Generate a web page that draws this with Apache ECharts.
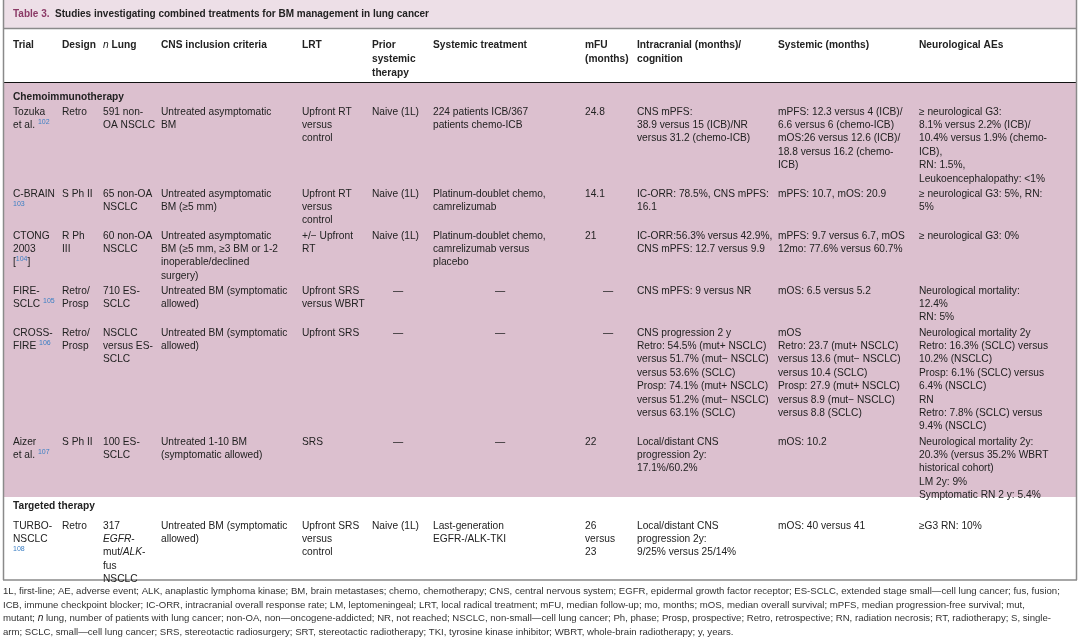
<!DOCTYPE html>
<html>
<head>
<meta charset="utf-8">
<script src="https://cdn.jsdelivr.net/npm/echarts@6/dist/echarts.min.js"></script>
<style>html,body{margin:0;padding:0;background:#fff}#main{width:1080px;height:640px}</style>
</head>
<body>
<div id="main"></div>
<script>
// table content
var columns = ['Trial', 'Design', '{i|n} Lung', 'CNS inclusion criteria', 'LRT', 'Prior\nsystemic\ntherapy',
  'Systemic treatment', 'mFU\n(months)', 'Intracranial (months)/\ncognition', 'Systemic (months)', 'Neurological AEs'];
var groups = ['Chemoimmunotherapy', 'Targeted therapy'];
var chemoRows = [
  ['Tozuka\net al. {r|102}', 'Retro', '591 non-\nOA NSCLC', 'Untreated asymptomatic\nBM', 'Upfront RT\nversus\ncontrol', 'Naive (1L)',
   '224 patients ICB/367\npatients chemo-ICB', '24.8', 'CNS mPFS:\n38.9 versus 15 (ICB)/NR\nversus 31.2 (chemo-ICB)',
   'mPFS: 12.3 versus 4 (ICB)/\n6.6 versus 6 (chemo-ICB)\nmOS:26 versus 12.6 (ICB)/\n18.8 versus 16.2 (chemo-\nICB)',
   '\u2265 neurological G3:\n8.1% versus 2.2% (ICB)/\n10.4% versus 1.9% (chemo-\nICB),\nRN: 1.5%,\nLeukoencephalopathy: <1%'],
  ['C-BRAIN\n{r|103}', 'S Ph II', '65 non-OA\nNSCLC', 'Untreated asymptomatic\nBM (\u22655 mm)', 'Upfront RT\nversus\ncontrol', 'Naive (1L)',
   'Platinum-doublet chemo,\ncamrelizumab', '14.1', 'IC-ORR: 78.5%, CNS mPFS:\n16.1', 'mPFS: 10.7, mOS: 20.9',
   '\u2265 neurological G3: 5%, RN:\n5%'],
  ['CTONG\n2003\n[{r|104}]', 'R Ph\nIII', '60 non-OA\nNSCLC', 'Untreated asymptomatic\nBM (\u22655 mm, \u22653 BM or 1-2\ninoperable/declined\nsurgery)',
   '+/\u2212 Upfront\nRT', 'Naive (1L)', 'Platinum-doublet chemo,\ncamrelizumab versus\nplacebo', '21',
   'IC-ORR:56.3% versus 42.9%,\nCNS mPFS: 12.7 versus 9.9', 'mPFS: 9.7 versus 6.7, mOS\n12mo: 77.6% versus 60.7%',
   '\u2265 neurological G3: 0%'],
  ['FIRE-\nSCLC {r|105}', 'Retro/\nProsp', '710 ES-\nSCLC', 'Untreated BM (symptomatic\nallowed)', 'Upfront SRS\nversus WBRT', '\u2014',
   '\u2014', '\u2014', 'CNS mPFS: 9 versus NR', 'mOS: 6.5 versus 5.2', 'Neurological mortality:\n12.4%\nRN: 5%'],
  ['CROSS-\nFIRE {r|106}', 'Retro/\nProsp', 'NSCLC\nversus ES-\nSCLC', 'Untreated BM (symptomatic\nallowed)', 'Upfront SRS', '\u2014',
   '\u2014', '\u2014',
   'CNS progression 2 y\nRetro: 54.5% (mut+ NSCLC)\nversus 51.7% (mut\u2212 NSCLC)\nversus 53.6% (SCLC)\nProsp: 74.1% (mut+ NSCLC)\nversus 51.2% (mut\u2212 NSCLC)\nversus 63.1% (SCLC)',
   'mOS\nRetro: 23.7 (mut+ NSCLC)\nversus 13.6 (mut\u2212 NSCLC)\nversus 10.4 (SCLC)\nProsp: 27.9 (mut+ NSCLC)\nversus 8.9 (mut\u2212 NSCLC)\nversus 8.8 (SCLC)',
   'Neurological mortality 2y\nRetro: 16.3% (SCLC) versus\n10.2% (NSCLC)\nProsp: 6.1% (SCLC) versus\n6.4% (NSCLC)\nRN\nRetro: 7.8% (SCLC) versus\n9.4% (NSCLC)'],
  ['Aizer\net al. {r|107}', 'S Ph II', '100 ES-\nSCLC', 'Untreated 1-10 BM\n(symptomatic allowed)', 'SRS', '\u2014', '\u2014', '22',
   'Local/distant CNS\nprogression 2y:\n17.1%/60.2%', 'mOS: 10.2',
   'Neurological mortality 2y:\n20.3% (versus 35.2% WBRT\nhistorical cohort)\nLM 2y: 9%\nSymptomatic RN 2 y: 5.4%']
];
var targetedRows = [
  ['TURBO-\nNSCLC\n{r|108}', 'Retro', '317\n{i|EGFR}-\nmut/{i|ALK}-\nfus\nNSCLC', 'Untreated BM (symptomatic\nallowed)', 'Upfront SRS\nversus\ncontrol', 'Naive (1L)',
   'Last-generation\nEGFR-/ALK-TKI', '26\nversus\n23', 'Local/distant CNS\nprogression 2y:\n9/25% versus 25/14%', 'mOS: 40 versus 41', '\u2265G3 RN: 10%']
];
var footnote = [
  '1L, first-line; AE, adverse event; ALK, anaplastic lymphoma kinase; BM, brain metastases; chemo, chemotherapy; CNS, central nervous system; EGFR, epidermal growth factor receptor; ES-SCLC, extended stage small\u2014cell lung cancer; fus, fusion;',
  'ICB, immune checkpoint blocker; IC-ORR, intracranial overall response rate; LM, leptomeningeal; LRT, local radical treatment; mFU, median follow-up; mo, months; mOS, median overall survival; mPFS, median progression-free survival; mut,',
  'mutant; {i|n} lung, number of patients with lung cancer; non-OA, non\u2014oncogene-addicted; NR, not reached; NSCLC, non-small\u2014cell lung cancer; Ph, phase; Prosp, prospective; Retro, retrospective; RN, radiation necrosis; RT, radiotherapy; S, single-',
  'arm; SCLC, small\u2014cell lung cancer; SRS, stereotactic radiosurgery; SRT, stereotactic radiotherapy; TKI, tyrosine kinase inhibitor; WBRT, whole-brain radiotherapy; y, years.'
];

// layout
var colX = [13, 62, 103, 161, 302, 372, 433, 585, 637, 778, 919];
var chemoY = [105, 187, 229, 284, 326, 435];
var targetedY = [519];
var dashCol = {5: 398, 6: 500, 7: 608};
var FONT = '"Liberation Sans", Arial, sans-serif';
var LH = 13.4;
var SIZE = 10.2;
var rich = {
  r: {fontSize: 7, fill: '#3b7fc4', verticalAlign: 'top', padding: [0, 0, 5, 0]},
  i: {fontStyle: 'italic', fontSize: SIZE, fill: '#222'}
};

var els = [];
function rect(x, y, w, h, fill) {
  els.push({type: 'rect', shape: {x: x, y: y, width: w, height: h}, style: {fill: fill}, silent: true});
}
function line(x1, y1, x2, y2, c, w) {
  els.push({type: 'line', shape: {x1: x1, y1: y1, x2: x2, y2: y2}, style: {stroke: c, lineWidth: w}, silent: true});
}
function text(x, y, s, opt) {
  opt = opt || {};
  els.push({type: 'text', x: x, y: y, silent: true, style: {
    text: s, font: (opt.bold ? 'bold ' : '') + (opt.size || SIZE) + 'px ' + FONT,
    fill: opt.fill || '#222', lineHeight: opt.lh || LH, align: opt.align || 'left',
    verticalAlign: 'top', rich: opt.rich || rich
  }});
}

rect(3, 0, 1074, 28, '#eddfe7');
rect(3, 83, 1074, 414, '#dcc0cf');
line(3, 28.5, 1077, 28.5, '#8a8a8a', 1.5);
line(3, 82.5, 1077, 82.5, '#111', 1.2);
line(3.5, 0, 3.5, 580, '#8a8a8a', 1.5);
line(1076.5, 0, 1076.5, 580, '#8a8a8a', 1.5);
line(3, 580, 1077, 580, '#8a8a8a', 1.5);

text(13, 8, '{t|Table 3.}{b|  Studies investigating combined treatments for BM management in lung cancer}', {
  rich: {
    t: {fill: '#8b3a66', fontWeight: 'bold', fontSize: 10, fontFamily: FONT},
    b: {fill: '#222', fontWeight: 'bold', fontSize: 10, fontFamily: FONT}
  }
});

columns.forEach(function (c, i) { text(colX[i], 38, c, {bold: true, lh: 14}); });
text(13, 90, groups[0], {bold: true});
text(13, 499, groups[1], {bold: true});

function drawRows(rows, ys) {
  rows.forEach(function (row, r) {
    row.forEach(function (cell, c) {
      if (cell === '\u2014' && dashCol[c]) text(dashCol[c], ys[r], cell, {align: 'center'});
      else text(colX[c], ys[r], cell);
    });
  });
}
drawRows(chemoRows, chemoY);
drawRows(targetedRows, targetedY);

footnote.forEach(function (f, i) { text(3, 585 + i * 13.4, f, {size: 9.6, fill: '#333'}); });

var chart = echarts.init(document.getElementById('main'));
chart.setOption({animation: false, graphic: {elements: els}});
</script>
</body>
</html>
